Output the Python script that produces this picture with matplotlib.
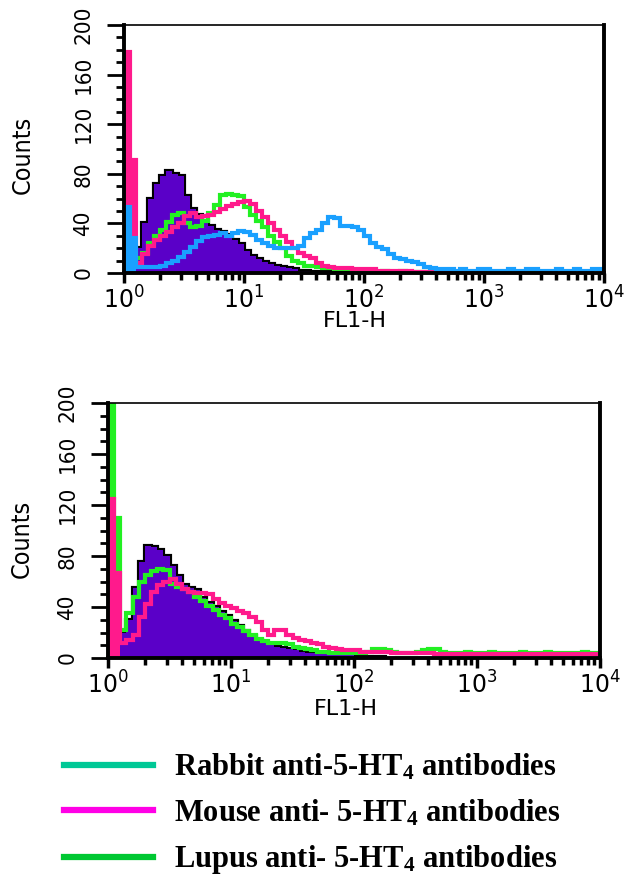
import numpy as np
import matplotlib
matplotlib.use('Agg')
import matplotlib.pyplot as plt
from matplotlib.ticker import MultipleLocator, LogLocator
from matplotlib.lines import Line2D
from matplotlib import font_manager

## log bin edges, 20 channels per decade from 10^0 to 10^4
edges = 10 ** (np.arange(81) * 0.05)

## top panel counts per channel
top_purple = [0, 10, 20, 40, 60, 72, 78, 82, 80, 78,
              62, 52, 47, 42, 38, 35, 33, 31, 27, 23,
              18, 14, 11, 9, 7, 6, 5, 4, 3, 2,
              2, 1, 1, 1, 1, 1, 1, 1, 0, 0]
top_green = [5, 8, 12, 16, 24, 30, 35, 41, 47, 48,
             40, 37, 38, 42, 48, 55, 63, 64, 63, 62,
             53, 47, 42, 37, 30, 25, 20, 14, 10, 8,
             6, 6, 5, 4, 4, 3, 3, 3, 2, 2,
             2, 2, 1, 2, 1, 1, 2, 1, 1, 1,
             1, 1, 1, 0, 1, 1, 1, 0, 1, 1,
             1, 0, 1, 1, 1, 0, 0, 1, 0, 0]
top_pink = [178, 91, 8, 15, 22, 27, 30, 33, 37, 40,
            46, 48, 45, 46, 47, 49, 52, 54, 56, 57,
            58, 56, 50, 45, 40, 35, 30, 25, 20, 16,
            14, 12, 8, 6, 5, 4, 4, 4, 3, 3,
            3, 3, 2, 2, 2, 2, 2, 2, 1, 1,
            1, 1, 1, 1, 1, 1, 0, 1, 1, 0]
top_blue = [53, 28, 5, 5, 5, 5, 6, 8, 10, 13,
            17, 21, 26, 29, 30, 31, 32, 30, 32, 34,
            33, 31, 27, 24, 22, 20, 20, 20, 20, 22,
            28, 32, 35, 40, 45, 44, 38, 38, 37, 35,
            30, 24, 21, 19, 15, 12, 11, 10, 9, 7,
            5, 4, 3, 3, 3, 2, 3, 2, 2, 3,
            3, 2, 2, 2, 3, 2, 2, 3, 3, 2,
            2, 2, 3, 2, 2, 3, 2, 2, 3, 3]

## bottom panel counts per channel
bot_purple = [0, 0, 20, 30, 55, 75, 88, 87, 85, 80,
              72, 64, 57, 55, 53, 47, 43, 40, 36, 33,
              29, 25, 21, 17, 14, 12, 10, 9, 8, 7,
              6, 5, 4, 4, 3, 3, 3, 2, 2, 2,
              1, 1, 1, 1, 1]
bot_green = [230, 110, 22, 35, 48, 60, 65, 68, 70, 69,
             58, 56, 54, 52, 48, 45, 41, 38, 34, 31,
             27, 24, 21, 18, 15, 13, 12, 12, 12, 11,
             9, 8, 7, 6, 5, 5, 4, 4, 4, 4,
             4, 4, 5, 7, 7, 6, 5, 4, 4, 4,
             5, 6, 7, 7, 5, 4, 4, 4, 5, 4,
             4, 4, 5, 4, 4, 4, 4, 5, 4, 4,
             4, 5, 4, 4, 4, 4, 4, 5, 4, 4]
bot_pink = [125, 67, 12, 14, 18, 32, 42, 52, 57, 60,
            62, 58, 54, 52, 51, 51, 50, 46, 43, 41,
            39, 37, 35, 32, 28, 22, 18, 22, 22, 18,
            16, 14, 13, 12, 11, 9, 8, 7, 6, 6,
            6, 5, 5, 5, 5, 5, 4, 4, 4, 4,
            4, 4, 4, 3, 3, 3, 3, 3, 3, 3,
            3, 3, 3, 3, 3, 3, 3, 3, 3, 3,
            3, 3, 3, 3, 3, 3, 3, 3, 3, 3]

yticks = [0, 40, 80, 120, 160, 200]
legend_labels = [r'Rabbit anti-5-HT$_4$ antibodies',
                 r'Mouse anti- 5-HT$_4$ antibodies',
                 r'Lupus anti- 5-HT$_4$ antibodies']
legend_colors = ['#00C896', '#FF00E6', '#00C832']

PURPLE = '#5A00C8'
PINK = '#FF1A8C'
GREEN = '#22F022'
BLUE = '#1AA0FF'

names = {f.name for f in font_manager.fontManager.ttflist}
narrow = 'Liberation Sans Narrow' if 'Liberation Sans Narrow' in names else 'DejaVu Sans'
plt.rcParams['mathtext.default'] = 'regular'

fig = plt.figure(figsize=(6.3, 8.77), dpi=100)
ax1 = fig.add_axes([124/630, 1-273/877, 480/630, 248/877])
ax2 = fig.add_axes([108/630, 1-658/877, 492/630, 255/877])


def hist(ax, vals, color, lw=3.0):
    e = edges[:len(vals)+1]
    ax.stairs(vals[:2], e[:3], fill=True, color=color)
    ax.stairs(vals, e, color=color, lw=lw)


def filled(ax, vals):
    e = edges[:len(vals)+1]
    ax.stairs(vals, e, color='black', lw=3)
    ax.stairs(vals, e, fill=True, color=PURPLE)


def style(ax, lab_x, lab_y, cnt_x, cnt_y):
    ax.set_xscale('log')
    ax.set_xlim(1, 1e4)
    ax.set_ylim(0, 200)
    ax.set_yticks(yticks)
    ax.yaxis.set_minor_locator(MultipleLocator(10))
    ax.xaxis.set_major_locator(LogLocator(10, numticks=10))
    ax.xaxis.set_minor_locator(LogLocator(10, subs=np.arange(2, 10), numticks=20))
    ax.tick_params(axis='y', which='major', length=12, width=2, pad=10,
                   labelsize=16, labelrotation=90)
    ax.tick_params(axis='y', which='minor', length=6, width=2)
    ax.tick_params(axis='x', which='major', length=7, width=2.5, pad=3, labelsize=17)
    ax.tick_params(axis='x', which='minor', length=5, width=2.5)
    for lab in ax.get_yticklabels():
        lab.set_family(narrow)
        lab.set_stretch('condensed')
        lab.set_va('center')
    for s in ['left', 'bottom', 'right']:
        ax.spines[s].set_linewidth(2.8)
    ax.spines['top'].set_linewidth(1.2)
    ax.set_xlabel('FL1-H', fontsize=16)
    ax.xaxis.set_label_coords(lab_x, lab_y)
    ax.set_ylabel('Counts', fontsize=18, family=narrow, stretch='condensed')
    ax.yaxis.set_label_coords(cnt_x, cnt_y)


filled(ax1, top_purple)
hist(ax1, top_green, GREEN)
hist(ax1, top_pink, PINK)
hist(ax1, top_blue, BLUE)
style(ax1, 0.48, -0.155, -0.185, 0.476)

filled(ax2, bot_purple)
hist(ax2, bot_green, GREEN)
hist(ax2, bot_pink, PINK)
style(ax2, 0.484, -0.16, -0.15, 0.467)

handles = [Line2D([], [], color=c, lw=4.5) for c in legend_colors]
fig.legend(handles, legend_labels, loc='upper left', bbox_to_anchor=(0.058, 0.174),
           frameon=False, handlelength=2.9, handletextpad=0.7, labelspacing=0.5,
           prop={'family': 'Liberation Serif', 'weight': 'bold', 'size': 22})

fig.savefig('out.png', dpi=100)
